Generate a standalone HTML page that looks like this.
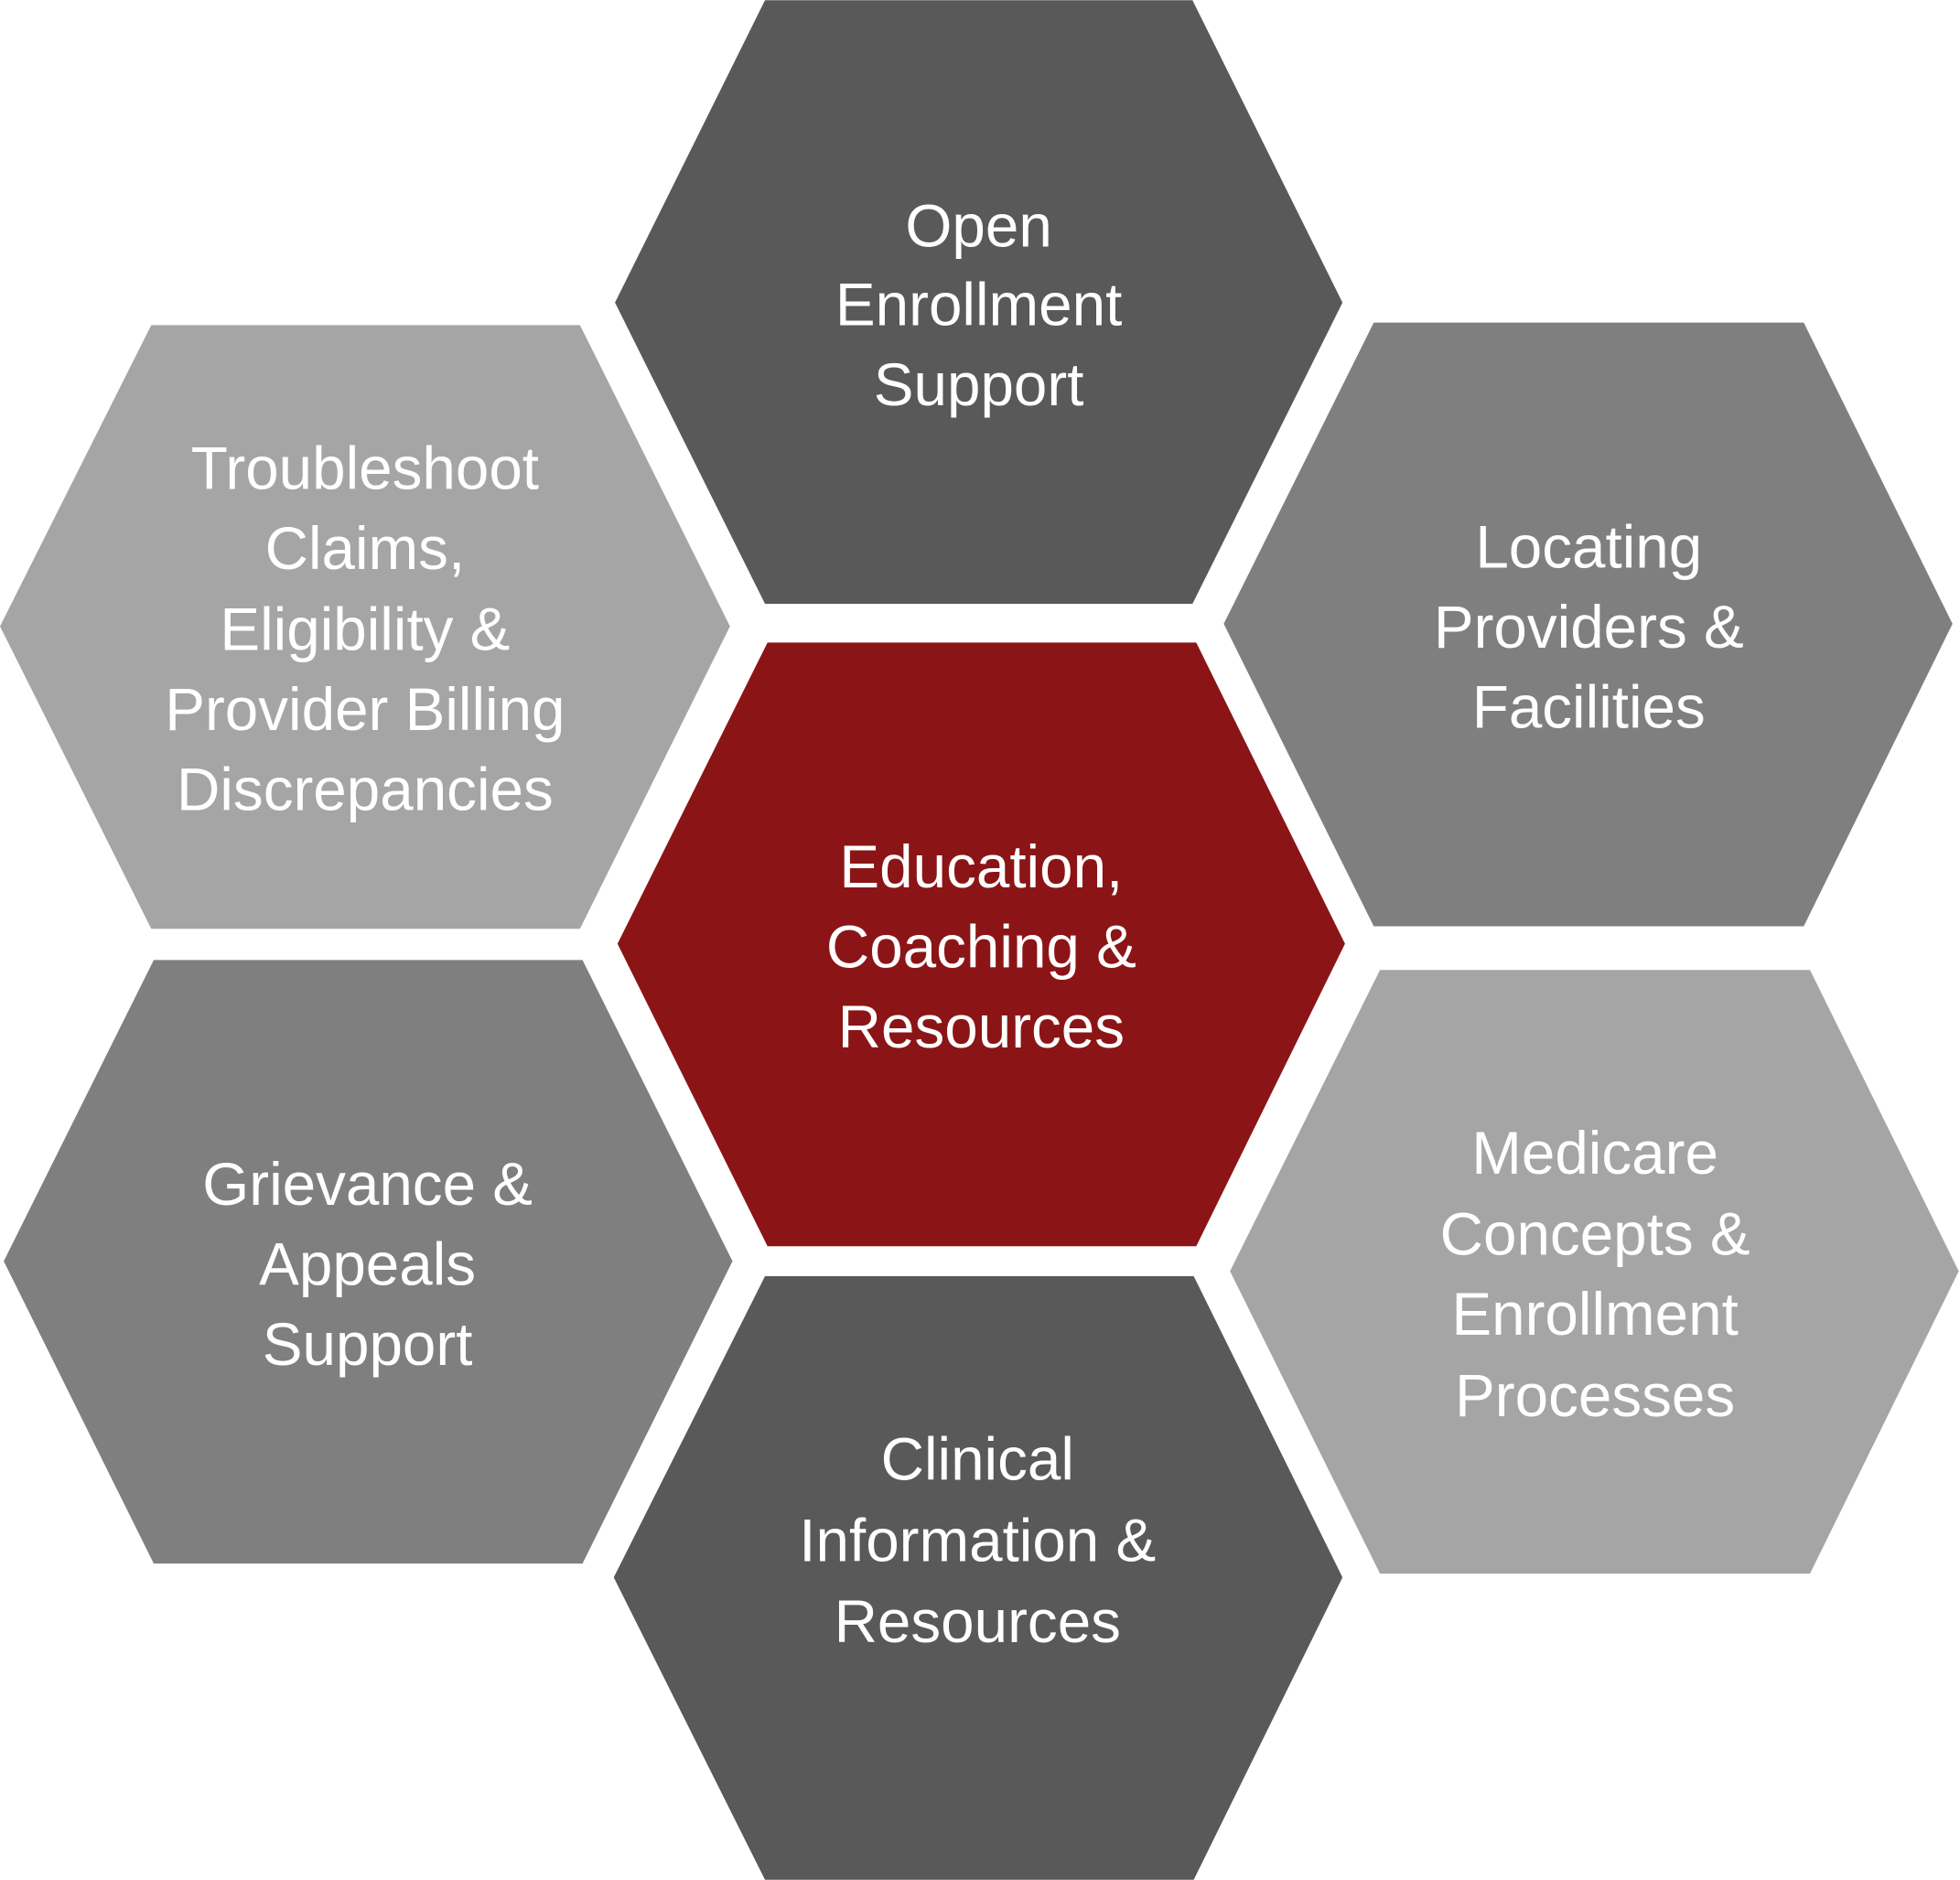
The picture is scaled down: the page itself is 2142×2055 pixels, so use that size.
<!DOCTYPE html>
<html><head><meta charset="utf-8"><style>html,body{margin:0;padding:0;background:#fff}svg{display:block}</style></head>
<body>
<svg width="2142" height="2055" viewBox="0 0 1568 1504" xmlns="http://www.w3.org/2000/svg">
<g>
<polygon points="612,0 954,0 1074,242 954,483 612,483 492,242" fill="#595959"/>
<polygon points="614,514 957,514 1076,755 957,997 614,997 494,755" fill="#8b1516"/>
<polygon points="1099,258 1443,258 1562,499 1443,741 1099,741 979,499" fill="#7f7f7f"/>
<polygon points="121,260 464,260 584,501 464,743 121,743 0,501" fill="#a5a5a5"/>
<polygon points="123,768 466,768 586,1009 466,1251 123,1251 3,1009" fill="#7f7f7f"/>
<polygon points="1104,776 1448,776 1567,1017 1448,1259 1104,1259 984,1017" fill="#a5a5a5"/>
<polygon points="612,1021 955,1021 1074,1262 955,1504 612,1504 491,1262" fill="#595959"/>
</g>
<g font-family="'Liberation Sans', sans-serif" font-size="48" fill="#fff" text-anchor="middle">
<text x="783" y="197">Open</text>
<text x="783" y="260">Enrollment</text>
<text x="783" y="324">Support</text>
<text x="292" y="391">Troubleshoot</text>
<text x="292" y="455">Claims,</text>
<text x="292" y="520">Eligibility &amp;</text>
<text x="292" y="584">Provider Billing</text>
<text x="292" y="648">Discrepancies</text>
<text x="1271" y="454">Locating</text>
<text x="1271" y="518">Providers &amp;</text>
<text x="1271" y="582">Facilities</text>
<text x="785" y="710">Education,</text>
<text x="785" y="774">Coaching &amp;</text>
<text x="785" y="838">Resources</text>
<text x="294" y="964">Grievance &amp;</text>
<text x="294" y="1028">Appeals</text>
<text x="294" y="1092">Support</text>
<text x="1276" y="939">Medicare</text>
<text x="1276" y="1004">Concepts &amp;</text>
<text x="1276" y="1068">Enrollment</text>
<text x="1276" y="1133">Processes</text>
<text x="782" y="1184">Clinical</text>
<text x="782" y="1249">Information &amp;</text>
<text x="782" y="1314">Resources</text>
</g>
</svg>
</body></html>
